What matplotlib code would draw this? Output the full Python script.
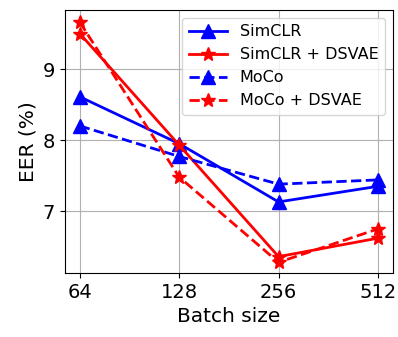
import matplotlib
matplotlib.use("Agg")
import matplotlib.pyplot as plt

batch = [64, 128, 256, 512]
simclr = [8.61, 7.95, 7.13, 7.35]
simclr_dsvae = [9.50, 7.93, 6.36, 6.62]
moco = [8.20, 7.77, 7.38, 7.44]
moco_dsvae = [9.66, 7.48, 6.28, 6.75]

fig = plt.figure(figsize=(3.98, 3.37), dpi=100)
ax = fig.add_axes([0.163, 0.19, 0.824, 0.78])

ax.plot(batch, simclr, "b-^", lw=2, ms=10, label="SimCLR")
ax.plot(batch, simclr_dsvae, "r-*", lw=2, ms=10, label="SimCLR + DSVAE")
ax.plot(batch, moco, "b--^", lw=2, ms=10, label="MoCo")
ax.plot(batch, moco_dsvae, "r--*", lw=2, ms=10, label="MoCo + DSVAE")

ax.set_xscale("log", base=2)
ax.set_xticks(batch)
ax.set_xticklabels([str(b) for b in batch])
ax.minorticks_off()
ax.set_yticks([7, 8, 9])
ax.set_ylim(6.13, 9.83)
ax.tick_params(labelsize=14)
ax.set_xlabel("Batch size", fontsize=14.5)
ax.set_ylabel("EER (%)", fontsize=14.5)
ax.grid(True)
ax.legend(loc="upper right", fontsize=11.5, handlelength=2.4)

fig.savefig("out.png", dpi=100)
